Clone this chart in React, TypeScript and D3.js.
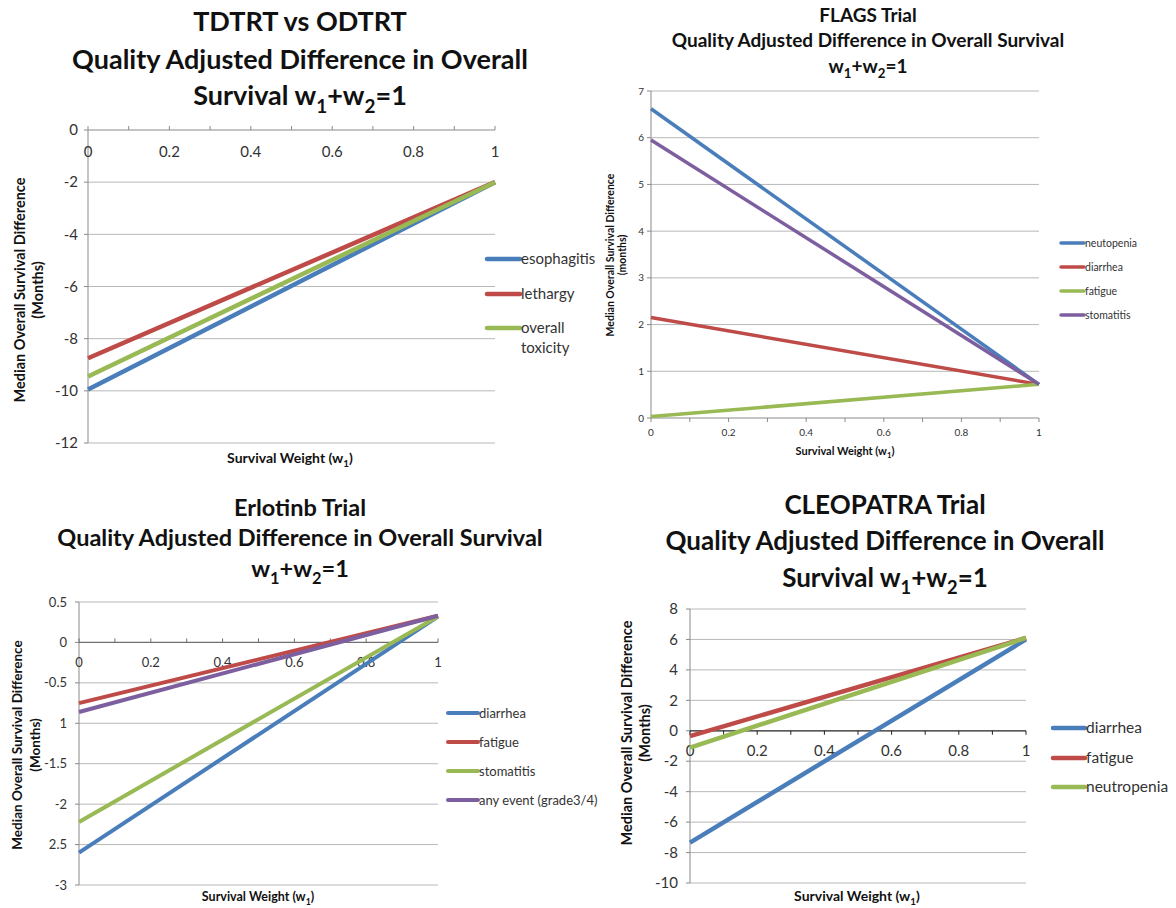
import React from 'react';
import * as d3 from 'd3';

const W = 1176;
const H = 908;
const FONT = "Lato, 'Open Sans', sans-serif";

// ---------- shared ----------
const weights = [0, 1];
const xLabelValues = [0, 0.2, 0.4, 0.6, 0.8, 1];
const xTickLabels = ['0', '0.2', '0.4', '0.6', '0.8', '1'];
const xMinorTicks = [0, 0.1, 0.2, 0.3, 0.4, 0.5, 0.6, 0.7, 0.8, 0.9, 1];
const seriesColors = ['#4A7EBB', '#BE4B48', '#98B954', '#7D5FA0'];

// ---------- TDTRT vs ODTRT ----------
const tdtrtNames = ['esophagitis', 'lethargy', 'overall toxicity'];
const tdtrtEsophagitis = [-9.95, -2.0];
const tdtrtLethargy = [-8.75, -2.0];
const tdtrtOverall = [-9.45, -2.0];
const tdtrtYTicks = [0, -2, -4, -6, -8, -10, -12];
const tdtrtYLabels = ['0', '-2', '-4', '-6', '-8', '-10', '-12'];
const tdtrtTitle = ['TDTRT vs ODTRT', 'Quality Adjusted Difference in Overall', 'Survival w_1+w_2=1'];

// ---------- FLAGS ----------
const flagsNames = ['neutopenia', 'diarrhea', 'fatigue', 'stomatitis'];
const flagsNeutopenia = [6.62, 0.72];
const flagsDiarrhea = [2.15, 0.72];
const flagsFatigue = [0.03, 0.72];
const flagsStomatitis = [5.95, 0.72];
const flagsYTicks = [0, 1, 2, 3, 4, 5, 6, 7];
const flagsYLabels = ['0', '1', '2', '3', '4', '5', '6', '7'];
const flagsTitle = ['FLAGS Trial', 'Quality Adjusted Difference in Overall Survival', 'w_1+w_2=1'];

// ---------- Erlotinb ----------
const erloNames = ['diarrhea', 'fatigue', 'stomatitis', 'any event (grade3/4)'];
const erloDiarrhea = [-2.6, 0.32];
const erloFatigue = [-0.75, 0.33];
const erloStomatitis = [-2.22, 0.32];
const erloAnyEvent = [-0.86, 0.33];
const erloYTicks = [0.5, 0, -0.5, -1, -1.5, -2, -2.5, -3];
const erloYLabels = ['0.5', '0', '-0.5', '1', '-1.5', '-2', '2.5', '-3'];
const erloTitle = ['Erlotinb Trial', 'Quality Adjusted Difference in Overall Survival', 'w_1+w_2=1'];

// ---------- CLEOPATRA ----------
const cleoNames = ['diarrhea', 'fatigue', 'neutropenia'];
const cleoDiarrhea = [-7.35, 6.0];
const cleoFatigue = [-0.35, 6.1];
const cleoNeutropenia = [-1.1, 6.1];
const cleoYTicks = [8, 6, 4, 2, 0, -2, -4, -6, -8, -10];
const cleoYLabels = ['8', '6', '4', '2', '0', '-2', '-4', '-6', '-8', '-10'];
const cleoTitle = ['CLEOPATRA Trial', 'Quality Adjusted Difference in Overall', 'Survival w_1+w_2=1'];

const yTitleLines = ['Median Overall Survival Difference', '(Months)'];
const yTitleLinesFlags = ['Median Overall Survival Difference', '(months)'];
const xTitle = 'Survival Weight (w_1)';

function Rich({ text, x, y, size, weight, anchor, fill, transform }: any) {
  const parts = text.split(/(_\d)/).filter((p: string) => p.length > 0);
  const shift = size * 0.28;
  const out: any[] = [];
  let pending = 0;
  parts.forEach((p: string, i: number) => {
    if (p.startsWith('_')) {
      out.push(
        <tspan key={i} dy={shift} fontSize={size * 0.7}>
          {p.slice(1)}
        </tspan>
      );
      pending = -shift;
    } else {
      out.push(
        <tspan key={i} dy={pending}>
          {p}
        </tspan>
      );
      pending = 0;
    }
  });
  return (
    <text
      x={x}
      y={y}
      fontSize={size}
      fontWeight={weight}
      textAnchor={anchor || 'middle'}
      fill={fill || '#111'}
      fontFamily={FONT}
      transform={transform}
    >
      {out}
    </text>
  );
}

function Panel({ cfg }: any) {
  const x = d3.scaleLinear().domain([0, 1]).range([cfg.left, cfg.right]);
  const y = d3.scaleLinear().domain(cfg.yDomain).range([cfg.top, cfg.bottom]);
  const line = d3
    .line<number>()
    .x((_, i) => x(weights[i]))
    .y((d) => y(d));
  const axisY = y(cfg.xAxisAt);
  const tickLen = 4 * cfg.tickDir;
  return (
    <g>
      {cfg.title.map((t: string, i: number) => (
        <Rich key={i} text={t} x={cfg.titleX} y={cfg.titleY[i]} size={cfg.titleSize} weight="bold" />
      ))}
      {cfg.yTicks.map((v: number, i: number) =>
        v === cfg.xAxisAt ? null : (
          <line key={i} x1={cfg.left} x2={cfg.right} y1={y(v)} y2={y(v)} stroke="#B8B8B8" strokeWidth={1} />
        )
      )}
      <line x1={cfg.left} x2={cfg.left} y1={y(cfg.yDomain[0])} y2={y(cfg.yDomain[1])} stroke="#8A8A8A" strokeWidth={1} />
      {cfg.yTicks.map((v: number, i: number) => (
        <line key={'yt' + i} x1={cfg.left - 4} x2={cfg.left} y1={y(v)} y2={y(v)} stroke="#8A8A8A" strokeWidth={1} />
      ))}
      {cfg.yTicks.map((v: number, i: number) => (
        <text
          key={'yl' + i}
          x={cfg.yLabelX}
          y={y(v)}
          dy="0.35em"
          textAnchor="end"
          fontSize={cfg.tickSize}
          fill="#333"
          fontFamily={FONT}
        >
          {cfg.yLabels[i]}
        </text>
      ))}
      <line x1={cfg.left} x2={cfg.right} y1={axisY} y2={axisY} stroke={cfg.xAxisColor} strokeWidth={1.2} />
      {xMinorTicks.map((v, i) => (
        <line key={'xt' + i} x1={x(v)} x2={x(v)} y1={axisY} y2={axisY + tickLen} stroke={cfg.xAxisColor} strokeWidth={1} />
      ))}
      {xLabelValues.map((v, i) => (
        <text
          key={'xl' + i}
          x={x(v)}
          y={axisY + cfg.xLabelOffset}
          dy="0.35em"
          textAnchor="middle"
          fontSize={cfg.tickSize}
          fill="#333"
          fontFamily={FONT}
        >
          {xTickLabels[i]}
        </text>
      ))}
      {cfg.series.map((s: number[], i: number) => (
        <path key={'s' + i} d={line(s) || ''} fill="none" stroke={seriesColors[cfg.colors[i]]} strokeWidth={cfg.lineWidth} />
      ))}
      <Rich text={xTitle} x={cfg.xTitleX} y={cfg.xTitleY} size={cfg.xTitleSize} weight="bold" />
      {cfg.yTitle.map((t: string, i: number) => (
        <Rich
          key={'yti' + i}
          text={t}
          x={0}
          y={0}
          size={cfg.axisTitleSize}
          weight="bold"
          transform={`translate(${cfg.yTitleX[i]},${cfg.yTitleY}) rotate(-90)`}
        />
      ))}
      {cfg.names.map((n: string, i: number) => {
        const words = cfg.legendWrap && n === 'overall toxicity' ? ['overall', 'toxicity'] : [n];
        const ly = cfg.legendY[i];
        return (
          <g key={'lg' + i}>
            <line
              x1={cfg.legendX1}
              x2={cfg.legendX2}
              y1={ly}
              y2={ly}
              stroke={seriesColors[cfg.colors[i]]}
              strokeWidth={cfg.lineWidth}
              strokeLinecap="round"
            />
            {words.map((w: string, j: number) => (
              <text
                key={j}
                x={cfg.legendX2 + 1}
                y={ly + j * cfg.legendSize * 1.3}
                dy="0.35em"
                fontSize={cfg.legendSize}
                fill="#333"
                fontFamily={FONT}
              >
                {w}
              </text>
            ))}
          </g>
        );
      })}
    </g>
  );
}

const panels = [
  {
    title: tdtrtTitle,
    titleX: 300,
    titleY: [31, 69, 105],
    titleSize: 27,
    left: 88,
    right: 495,
    top: 130,
    bottom: 443,
    yDomain: [0, -12],
    yTicks: tdtrtYTicks,
    yLabels: tdtrtYLabels,
    yLabelX: 78,
    xAxisAt: 0,
    xAxisColor: '#8A8A8A',
    tickDir: -1,
    xLabelOffset: 22,
    tickSize: 15,
    series: [tdtrtEsophagitis, tdtrtLethargy, tdtrtOverall],
    names: tdtrtNames,
    colors: [0, 1, 2],
    lineWidth: 4.5,
    xTitleX: 290,
    xTitleY: 463,
    xTitleSize: 14,
    axisTitleSize: 14.5,
    yTitle: yTitleLines,
    yTitleX: [25, 43],
    yTitleY: 290,
    legendX1: 487,
    legendX2: 520,
    legendY: [259, 294, 328],
    legendSize: 15,
    legendWrap: true,
  },
  {
    title: flagsTitle,
    titleX: 868,
    titleY: [22, 47, 73],
    titleSize: 19,
    left: 651,
    right: 1039,
    top: 91,
    bottom: 418,
    yDomain: [7, 0],
    yTicks: flagsYTicks,
    yLabels: flagsYLabels,
    yLabelX: 644,
    xAxisAt: 0,
    xAxisColor: '#8A8A8A',
    tickDir: 1,
    xLabelOffset: 14,
    tickSize: 10,
    series: [flagsNeutopenia, flagsDiarrhea, flagsFatigue, flagsStomatitis],
    names: flagsNames,
    colors: [0, 1, 2, 3],
    lineWidth: 3.5,
    xTitleX: 845,
    xTitleY: 455,
    xTitleSize: 11,
    axisTitleSize: 10.5,
    yTitle: yTitleLinesFlags,
    yTitleX: [614, 626],
    yTitleY: 255,
    legendX1: 1061,
    legendX2: 1084,
    legendY: [243, 267, 291, 315],
    legendSize: 10.5,
    legendWrap: false,
  },
  {
    title: erloTitle,
    titleX: 300,
    titleY: [516, 546, 577],
    titleSize: 23.5,
    left: 79,
    right: 438,
    top: 602,
    bottom: 885,
    yDomain: [0.5, -3],
    yTicks: erloYTicks,
    yLabels: erloYLabels,
    yLabelX: 67,
    xAxisAt: 0,
    xAxisColor: '#707070',
    tickDir: -1,
    xLabelOffset: 20,
    tickSize: 13,
    series: [erloDiarrhea, erloFatigue, erloStomatitis, erloAnyEvent],
    names: erloNames,
    colors: [0, 1, 2, 3],
    lineWidth: 4,
    xTitleX: 258,
    xTitleY: 901,
    xTitleSize: 12.5,
    axisTitleSize: 13.5,
    yTitle: yTitleLines,
    yTitleX: [22, 40],
    yTitleY: 745,
    legendX1: 448,
    legendX2: 478,
    legendY: [713, 742, 771, 800],
    legendSize: 13,
    legendWrap: false,
  },
  {
    title: cleoTitle,
    titleX: 885,
    titleY: [514, 550, 587],
    titleSize: 26,
    left: 690,
    right: 1026,
    top: 609,
    bottom: 883,
    yDomain: [8, -10],
    yTicks: cleoYTicks,
    yLabels: cleoYLabels,
    yLabelX: 678,
    xAxisAt: 0,
    xAxisColor: '#222',
    tickDir: 1,
    xLabelOffset: 20,
    tickSize: 15,
    series: [cleoDiarrhea, cleoFatigue, cleoNeutropenia],
    names: cleoNames,
    colors: [0, 1, 2],
    lineWidth: 4.5,
    xTitleX: 857,
    xTitleY: 901,
    xTitleSize: 14,
    axisTitleSize: 14.5,
    yTitle: yTitleLines,
    yTitleX: [632, 650],
    yTitleY: 733,
    legendX1: 1053,
    legendX2: 1085,
    legendY: [728, 758, 787],
    legendSize: 15.5,
    legendWrap: false,
  },
];

export default function App() {
  return (
    <svg
      width={W}
      height={H}
      viewBox={`0 0 ${W} ${H}`}
      style={{ position: 'absolute', left: 0, top: 0, background: '#fff' }}
    >
      <rect x={0} y={0} width={W} height={H} fill="#fff" />
      {panels.map((p, i) => (
        <Panel key={i} cfg={p} />
      ))}
    </svg>
  );
}
